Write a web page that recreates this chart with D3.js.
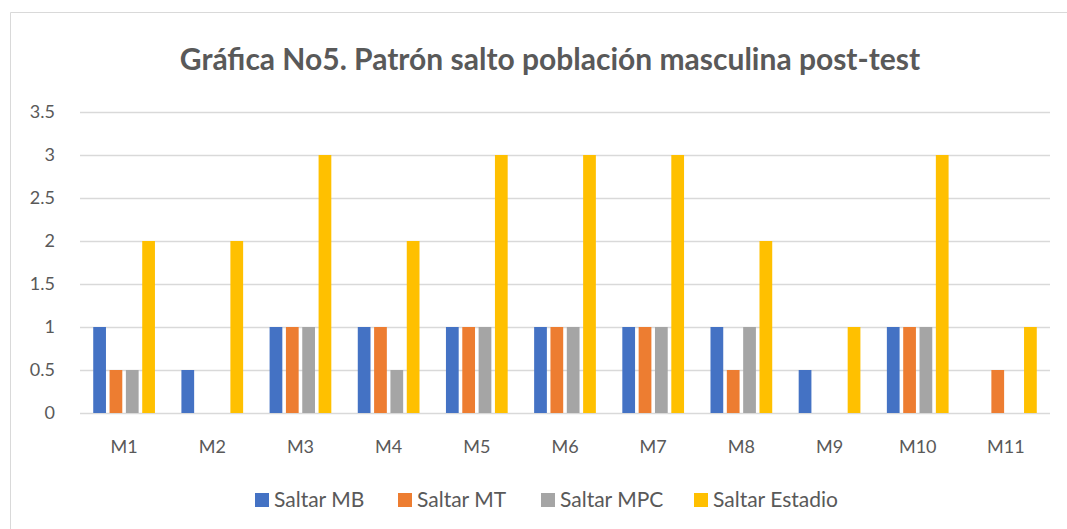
<!DOCTYPE html>
<html>
<head>
<meta charset="utf-8">
<script src="https://cdn.jsdelivr.net/npm/d3@7"></script>
<style>
  body { margin: 0; background: #fff; }
  text { font-family: Lato, "Open Sans", sans-serif; fill: #595959; }
</style>
</head>
<body>
<svg width="1067" height="529"></svg>
<script>
const categories = ['M1', 'M2', 'M3', 'M4', 'M5', 'M6', 'M7', 'M8', 'M9', 'M10', 'M11'];
const seriesNames = ['Saltar MB', 'Saltar MT', 'Saltar MPC', 'Saltar Estadio'];
const saltarMB = [1, 0.5, 1, 1, 1, 1, 1, 1, 0.5, 1, 0];
const saltarMT = [0.5, 0, 1, 1, 1, 1, 1, 0.5, 0, 1, 0.5];
const saltarMPC = [0.5, 0, 1, 0.5, 1, 1, 1, 1, 0, 1, 0];
const saltarEstadio = [2, 2, 3, 2, 3, 3, 3, 2, 1, 3, 1];
const yTicks = [0, 0.5, 1, 1.5, 2, 2.5, 3, 3.5];
const colors = ['#4472c4', '#ed7d31', '#a5a5a5', '#ffc000'];

const seriesValues = [saltarMB, saltarMT, saltarMPC, saltarEstadio];

const svg = d3.select('svg');

// outer chart border (right and bottom run off the picture)
svg.append('path')
    .attr('d', 'M1067,12.5 H10.5 V529')
    .attr('fill', 'none')
    .attr('stroke', '#d9d9d9');

const margin = { top: 112, left: 80, right: 17, bottom: 116 };
const innerWidth = 1067 - margin.left - margin.right;
const innerHeight = 529 - margin.top - margin.bottom;

const g = svg.append('g')
    .attr('transform', `translate(${margin.left}, ${margin.top})`);

const xScale = d3.scaleBand()
    .domain(categories)
    .range([0, innerWidth]);

const xInner = d3.scaleBand()
    .domain(seriesNames)
    .range([xScale.bandwidth() * 0.15, xScale.bandwidth() * 0.85])
    .paddingInner(0.22);

const yScale = d3.scaleLinear()
    .domain([0, 3.5])
    .range([innerHeight, 0]);

// gridlines + y labels
const yAxisG = g.append('g')
    .call(d3.axisLeft(yScale)
        .tickValues(yTicks)
        .tickFormat(d => d)
        .tickSize(-innerWidth)
        .tickPadding(25));
yAxisG.select('.domain').remove();
yAxisG.selectAll('.tick line').attr('stroke', '#d9d9d9').attr('stroke-width', 1.3);
yAxisG.selectAll('.tick text')
    .attr('font-size', 18)
    .attr('fill', '#595959');

// x labels
const xAxisG = g.append('g')
    .attr('transform', `translate(0, ${innerHeight})`)
    .call(d3.axisBottom(xScale).tickSize(0).tickPadding(27));
xAxisG.select('.domain').remove();
xAxisG.selectAll('.tick text')
    .attr('font-size', 18)
    .attr('fill', '#595959');

// bars
const groups = g.selectAll('.cat').data(categories)
    .enter().append('g')
        .attr('class', 'cat')
        .attr('transform', d => `translate(${xScale(d)}, 0)`);

groups.selectAll('rect')
    .data((d, i) => seriesNames.map((s, j) => ({ s, v: seriesValues[j][i], c: colors[j] })))
    .enter().append('rect')
        .attr('x', d => xInner(d.s))
        .attr('width', xInner.bandwidth())
        .attr('y', d => yScale(d.v))
        .attr('height', d => innerHeight - yScale(d.v))
        .attr('fill', d => d.c);

// title
svg.append('text')
    .attr('x', 550)
    .attr('y', 70)
    .attr('text-anchor', 'middle')
    .attr('font-size', 30)
    .attr('font-weight', 'bold')
    .text('Gráfica No5. Patrón salto población masculina post-test');

// legend
const legendX = [255, 398, 541, 694];
const legend = svg.append('g')
    .attr('transform', 'translate(0, 499)');
seriesNames.forEach((name, i) => {
    legend.append('rect')
        .attr('x', legendX[i]).attr('y', -6)
        .attr('width', 14).attr('height', 14)
        .attr('fill', colors[i]);
    legend.append('text')
        .attr('x', legendX[i] + 19)
        .attr('y', 8)
        .attr('font-size', 21)
        .text(name);
});
</script>
</body>
</html>
